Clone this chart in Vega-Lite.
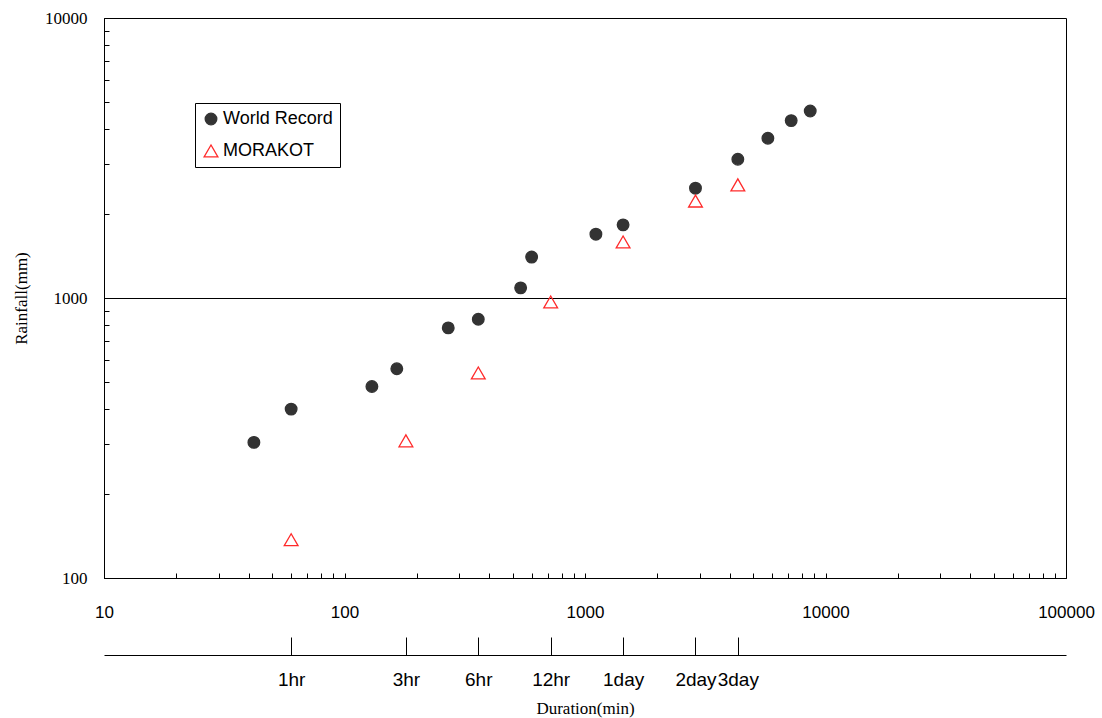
{
  "$schema": "https://vega.github.io/schema/vega-lite/v6.json",
  "width": 962,
  "height": 560,
  "autosize": {"type": "none"},
  "padding": {"left": 104, "top": 18, "right": 36, "bottom": 140},
  "background": "white",
  "config": {
    "view": {"stroke": "black", "strokeWidth": 1},
    "axis": {"domainColor": "black", "tickColor": "black", "labelColor": "black", "titleColor": "black", "grid": false, "labelOverlap": false, "labelFlush": false, "labelBound": false},
    "legend": {
      "orient": "none", "legendX": 91, "legendY": 85,
      "strokeColor": "black", "fillColor": "white", "padding": 7,
      "labelFont": "Liberation Sans", "labelFontSize": 18, "labelColor": "black",
      "rowPadding": 14, "labelOffset": 3, "symbolStrokeWidth": 1.3
    }
  },
  "datasets": {
    "points": [
      {"series": "World Record", "duration": 42, "rainfall": 305},
      {"series": "World Record", "duration": 60, "rainfall": 401},
      {"series": "World Record", "duration": 130, "rainfall": 483},
      {"series": "World Record", "duration": 165, "rainfall": 559},
      {"series": "World Record", "duration": 270, "rainfall": 782},
      {"series": "World Record", "duration": 360, "rainfall": 840},
      {"series": "World Record", "duration": 540, "rainfall": 1087},
      {"series": "World Record", "duration": 600, "rainfall": 1400},
      {"series": "World Record", "duration": 1110, "rainfall": 1690},
      {"series": "World Record", "duration": 1440, "rainfall": 1825},
      {"series": "World Record", "duration": 2880, "rainfall": 2467},
      {"series": "World Record", "duration": 4320, "rainfall": 3130},
      {"series": "World Record", "duration": 5760, "rainfall": 3721},
      {"series": "World Record", "duration": 7200, "rainfall": 4301},
      {"series": "World Record", "duration": 8640, "rainfall": 4653},
      {"series": "MORAKOT", "duration": 60, "rainfall": 137},
      {"series": "MORAKOT", "duration": 180, "rainfall": 309},
      {"series": "MORAKOT", "duration": 360, "rainfall": 540},
      {"series": "MORAKOT", "duration": 720, "rainfall": 968},
      {"series": "MORAKOT", "duration": 1440, "rainfall": 1585},
      {"series": "MORAKOT", "duration": 2880, "rainfall": 2220},
      {"series": "MORAKOT", "duration": 4320, "rainfall": 2535}
    ],
    "durations": [
      {"minutes": 60}, {"minutes": 180}, {"minutes": 360}, {"minutes": 720},
      {"minutes": 1440}, {"minutes": 2880}, {"minutes": 4320}
    ]
  },
  "layer": [
    {
      "data": {"name": "points"},
      "mark": {"type": "point", "strokeWidth": 1.3, "opacity": 1},
      "encoding": {
        "x": {
          "field": "duration", "type": "quantitative",
          "scale": {"type": "log", "domain": [10, 100000], "nice": false},
          "axis": {
            "values": [10,20,30,40,50,60,70,80,90,100,200,300,400,500,600,700,800,900,1000,2000,3000,4000,5000,6000,7000,8000,9000,10000,20000,30000,40000,50000,60000,70000,80000,90000,100000],
            "format": "d",
            "labelExpr": "indexof([10,100,1000,10000,100000], datum.value) >= 0 ? datum.label : ''",
            "tickSize": -5,
            "labelPadding": 31,
            "labelFont": "Liberation Sans", "labelFontSize": 17,
            "title": null
          }
        },
        "y": {
          "field": "rainfall", "type": "quantitative",
          "scale": {"type": "log", "domain": [100, 10000], "nice": false},
          "axis": {
            "values": [100,200,300,400,500,600,700,800,900,1000,2000,3000,4000,5000,6000,7000,8000,9000,10000],
            "format": "d",
            "labelExpr": "indexof([100,1000,10000], datum.value) >= 0 ? datum.label : ''",
            "tickSize": -5,
            "labelPadding": 22,
            "labelFont": "Liberation Serif", "labelFontSize": 17,
            "grid": true, "gridColor": "black", "gridWidth": 1,
            "gridOpacity": {"condition": {"test": "datum.value == 1000", "value": 1}, "value": 0},
            "title": "Rainfall(mm)",
            "titleFont": "Liberation Serif", "titleFontSize": 17, "titleFontWeight": "normal",
            "titlePadding": 14
          }
        },
        "shape": {"field": "series", "type": "nominal", "title": null, "scale": {"domain": ["World Record", "MORAKOT"], "range": ["circle", "triangle-up"]}},
        "fill": {"field": "series", "type": "nominal", "title": null, "scale": {"domain": ["World Record", "MORAKOT"], "range": ["#333333", "transparent"]}},
        "stroke": {"field": "series", "type": "nominal", "title": null, "scale": {"domain": ["World Record", "MORAKOT"], "range": ["#333333", "#ff2a2a"]}},
        "size": {"field": "series", "type": "nominal", "title": null, "scale": {"domain": ["World Record", "MORAKOT"], "range": [135, 190]}}
      }
    },
    {
      "data": {"name": "durations"},
      "mark": {"type": "point", "opacity": 0},
      "encoding": {
        "x": {
          "field": "minutes", "type": "quantitative",
          "scale": {"type": "log", "domain": [10, 100000], "nice": false},
          "axis": {
            "orient": "bottom", "offset": 77,
            "values": [60, 180, 360, 720, 1440, 2880, 4320],
            "labelExpr": "datum.value==60?'1hr':datum.value==180?'3hr':datum.value==360?'6hr':datum.value==720?'12hr':datum.value==1440?'1day':datum.value==2880?'2day':'3day'",
            "tickSize": -18,
            "labelPadding": 33,
            "labelFont": "Liberation Sans", "labelFontSize": 19,
            "title": "Duration(min)",
            "titleFont": "Liberation Serif", "titleFontSize": 17, "titleFontWeight": "normal",
            "titlePadding": 11
          }
        }
      }
    }
  ],
  "resolve": {"axis": {"x": "independent"}}
}
